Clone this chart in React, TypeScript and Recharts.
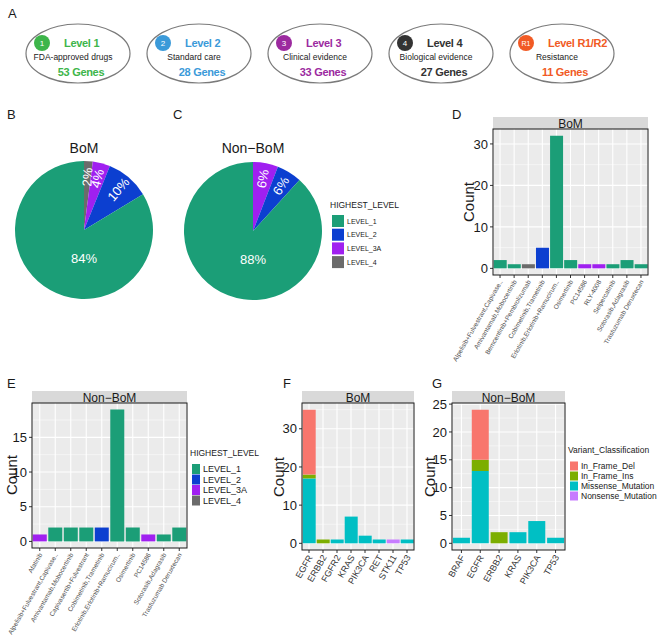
import React from 'react'
import { Bar, BarChart, CartesianGrid, Cell, Pie, PieChart, XAxis, YAxis } from 'recharts'

const FONT = '"Liberation Sans", Arial, Helvetica, sans-serif'

// panel A: OncoKB evidence levels
const levelBadges = ['1', '2', '3', '4', 'R1']
const levelTitles = ['Level 1', 'Level 2', 'Level 3', 'Level 4', 'Level R1/R2']
const levelDescs = ['FDA-approved drugs', 'Standard care', 'Clinical evidence', 'Biological evidence', 'Resistance']
const levelGenes = [53, 28, 33, 27, 11]
const levelInk = ['#3db54a', '#3b9ad9', '#9c2a9f', '#333333', '#f15a24']

// highest level legend
const LEVELS = ['LEVEL_1', 'LEVEL_2', 'LEVEL_3A', 'LEVEL_4']
const LEVEL_COLORS = ['#1b9e77', '#0c3fd0', '#a020f0', '#6b6b6b']

// panel D: BoM drugs
const bomDrugs = [
  'Alpelisib+Fulvestrant,Capivase..',
  'Amivantamab,Mobocertinib',
  'Bemcentinib+Pembrolizumab',
  'Cobimetinib,Trametinib',
  'Erlotinib,Erlotinib+Ramucirum..',
  'Osimertinib',
  'PC14586',
  'RLY-4008',
  'Selpercatinib',
  'Sotorasib,Adagrasib',
  'Trastuzumab Deruxtecan',
]
const bomDrugCounts = [2, 1, 1, 5, 32, 2, 1, 1, 1, 2, 1]
const bomDrugLevels = ['LEVEL_1', 'LEVEL_1', 'LEVEL_4', 'LEVEL_2', 'LEVEL_1', 'LEVEL_1', 'LEVEL_3A', 'LEVEL_3A', 'LEVEL_1', 'LEVEL_1', 'LEVEL_1']

// panel E: Non-BoM drugs
const nonBomDrugs = [
  'Afatinib',
  'Alpelisib+Fulvestrant,Capivase..',
  'Amivantamab,Mobocertinib',
  'Capivasertib+Fulvestrant',
  'Cobimetinib,Trametinib',
  'Erlotinib,Erlotinib+Ramucirum..',
  'Osimertinib',
  'PC14586',
  'Sotorasib,Adagrasib',
  'Trastuzumab Deruxtecan',
]
const nonBomDrugCounts = [1, 2, 2, 2, 2, 19, 2, 1, 1, 2]
const nonBomDrugLevels = ['LEVEL_3A', 'LEVEL_1', 'LEVEL_1', 'LEVEL_1', 'LEVEL_2', 'LEVEL_1', 'LEVEL_1', 'LEVEL_3A', 'LEVEL_1', 'LEVEL_1']

// panels F/G: variant classification per gene
const VARIANTS = ['In_Frame_Del', 'In_Frame_Ins', 'Missense_Mutation', 'Nonsense_Mutation']
const VARIANT_COLORS = ['#F8766D', '#7CAE00', '#00BFC4', '#C77CFF']

const bomGenes = ['EGFR', 'ERBB2', 'FGFR2', 'KRAS', 'PIK3CA', 'RET', 'STK11', 'TP53']
const bomDel = [17, 0, 0, 0, 0, 0, 0, 0]
const bomIns = [1, 1, 0, 0, 0, 0, 0, 0]
const bomMissense = [17, 0, 1, 7, 2, 1, 0, 1]
const bomNonsense = [0, 0, 0, 0, 0, 0, 1, 0]

const nonBomGenes = ['BRAF', 'EGFR', 'ERBB2', 'KRAS', 'PIK3CA', 'TP53']
const nonBomDel = [0, 9, 0, 0, 0, 0]
const nonBomIns = [0, 2, 2, 0, 0, 0]
const nonBomMissense = [1, 13, 0, 2, 4, 1]
const nonBomNonsense = [0, 0, 0, 0, 0, 0]

const levelColor = (lvl: string) => LEVEL_COLORS[LEVELS.indexOf(lvl)]

const drugRows = (names: string[], counts: number[], levels: string[]) =>
  names.map((name, i) => ({ name, count: counts[i], level: levels[i] }))

const geneRows = (genes: string[], del: number[], ins: number[], mis: number[], non: number[]) =>
  genes.map((name, i) => ({
    name,
    In_Frame_Del: del[i],
    In_Frame_Ins: ins[i],
    Missense_Mutation: mis[i],
    Nonsense_Mutation: non[i],
  }))

// pie slices go clockwise from 12 o'clock, highest level last
const pieRows = (counts: number[], levels: string[]) =>
  [...LEVELS]
    .reverse()
    .map((lvl) => ({
      name: lvl,
      value: counts.reduce((s, c, i) => (levels[i] === lvl ? s + c : s), 0),
    }))
    .filter((d) => d.value > 0)

const pieLabel = (p: any) => {
  const { cx, cy, midAngle, outerRadius, percent } = p
  const txt = `${Math.round(percent * 100)}%`
  if (percent > 0.5) {
    return (
      <text x={cx} y={cy + outerRadius * 0.42} fill="#fff" textAnchor="middle" dominantBaseline="central" fontSize={13} fontFamily={FONT}>
        {txt}
      </text>
    )
  }
  const r = outerRadius * 0.77
  const rad = (-midAngle * Math.PI) / 180
  const x = cx + r * Math.cos(rad)
  const y = cy + r * Math.sin(rad)
  return (
    <text x={x} y={y} fill="#fff" textAnchor="middle" dominantBaseline="central" fontSize={13} fontFamily={FONT} transform={`rotate(${-midAngle} ${x} ${y})`}>
      {txt}
    </text>
  )
}

function LevelPie({ left, top, data }: { left: number; top: number; data: { name: string; value: number }[] }) {
  return (
    <div style={{ position: 'absolute', left, top }}>
      <PieChart width={170} height={170} margin={{ top: 0, right: 0, bottom: 0, left: 0 }}>
        <Pie
          data={data}
          dataKey="value"
          nameKey="name"
          cx={85}
          cy={85}
          outerRadius={69}
          startAngle={90}
          endAngle={-270}
          stroke="none"
          label={pieLabel}
          labelLine={false}
          isAnimationActive={false}
        >
          {data.map((d) => (
            <Cell key={d.name} fill={levelColor(d.name)} />
          ))}
        </Pie>
      </PieChart>
    </div>
  )
}

const slantTick = (size: number, fill: string) => (props: any) => {
  const { x, y, payload } = props
  return (
    <text x={x} y={y} dy={size * 0.5} textAnchor="end" fontSize={size} fill={fill} fontFamily={FONT} transform={`rotate(-60 ${x} ${y})`}>
      {payload.value}
    </text>
  )
}

interface FacetProps {
  left: number
  top: number
  width: number
  height: number
  xHeight: number
  yW: number
  data: any[]
  domain: [number, number]
  ticks: number[]
  minor: number[]
  labelSize: number
  children: React.ReactNode
}

function FacetBars({ left, top, width, height, xHeight, yW, data, domain, ticks, minor, labelSize, children }: FacetProps) {
  const mt = 8
  const mr = 2
  return (
    <div style={{ position: 'absolute', left: left - yW, top: top - mt }}>
      <BarChart
        width={yW + width + mr}
        height={mt + height + xHeight}
        data={data}
        margin={{ top: mt, right: mr, bottom: 0, left: 0 }}
        barCategoryGap="5%"
      >
        <CartesianGrid fill="#ebebeb" stroke="#ffffff" strokeWidth={1.1} horizontalValues={ticks} />
        <CartesianGrid stroke="#ffffff" strokeWidth={0.5} vertical={false} horizontalValues={minor} />
        <XAxis
          dataKey="name"
          interval={0}
          axisLine={false}
          tickSize={3}
          tickLine={{ stroke: '#333' }}
          height={xHeight}
          tick={slantTick(labelSize, labelSize < 8 ? '#4d4d4d' : '#333')}
        />
        <YAxis
          type="number"
          domain={domain}
          ticks={ticks}
          allowDataOverflow
          width={yW}
          axisLine={false}
          tickSize={3}
          tickLine={{ stroke: '#333' }}
          tick={{ fontSize: 13, fill: '#1a1a1a', fontFamily: FONT }}
        />
        {children}
      </BarChart>
    </div>
  )
}

const levelBar = (rows: { level: string }[]) => (
  <Bar dataKey="count" isAnimationActive={false}>
    {rows.map((r, i) => (
      <Cell key={i} fill={levelColor(r.level)} />
    ))}
  </Bar>
)

// bottom of the stack first
const variantBars = () =>
  [3, 2, 1, 0].map((k) => (
    <Bar key={VARIANTS[k]} dataKey={VARIANTS[k]} stackId="v" fill={VARIANT_COLORS[k]} isAnimationActive={false} />
  ))

function Strip({ x, y, w, label }: { x: number; y: number; w: number; label: string }) {
  return (
    <g>
      <rect x={x} y={y} width={w} height={12} fill="#d9d9d9" />
      <text x={x + w / 2} y={y + 10.5} textAnchor="middle" fontSize={12} fill="#1a1a1a">
        {label}
      </text>
    </g>
  )
}

function Legend({ x, y, title, names, colors, keyW, keyH, step, size }: any) {
  return (
    <g>
      <text x={x} y={y} dominantBaseline="central" fontSize={8.5} fill="#1a1a1a">
        {title}
      </text>
      {names.map((n: string, i: number) => (
        <g key={n}>
          <rect x={x + 2} y={y + 16 + i * step - keyH / 2} width={keyW} height={keyH} fill={colors[i]} />
          <text x={x + keyW + 5} y={y + 16 + i * step} dominantBaseline="central" fontSize={size} fill="#1a1a1a">
            {n}
          </text>
        </g>
      ))}
    </g>
  )
}

export default function App() {
  const bomRows = drugRows(bomDrugs, bomDrugCounts, bomDrugLevels)
  const nonBomRows = drugRows(nonBomDrugs, nonBomDrugCounts, nonBomDrugLevels)
  const fRows = geneRows(bomGenes, bomDel, bomIns, bomMissense, bomNonsense)
  const gRows = geneRows(nonBomGenes, nonBomDel, nonBomIns, nonBomMissense, nonBomNonsense)

  return (
    <div style={{ position: 'absolute', left: 0, top: 0, width: 664, height: 643, background: '#fff', overflow: 'hidden', fontFamily: FONT }}>
      <LevelPie left={-1} top={145} data={pieRows(bomDrugCounts, bomDrugLevels)} />
      <LevelPie left={168} top={146} data={pieRows(nonBomDrugCounts, nonBomDrugLevels)} />

      <FacetBars left={493} top={129} width={155} height={146} xHeight={100} yW={60} data={bomRows} domain={[-1.6, 33.6]} ticks={[0, 10, 20, 30]} minor={[5, 15, 25]} labelSize={6.5}>
        {levelBar(bomRows)}
      </FacetBars>
      <FacetBars left={32} top={403} width={155} height={145} xHeight={100} yW={32} data={nonBomRows} domain={[-0.95, 19.95]} ticks={[0, 5, 10, 15]} minor={[2.5, 7.5, 12.5, 17.5]} labelSize={6.5}>
        {levelBar(nonBomRows)}
      </FacetBars>
      <FacetBars left={302} top={403} width={112} height={147} xHeight={45} yW={30} data={fRows} domain={[-1.75, 36.75]} ticks={[0, 10, 20, 30]} minor={[5, 15, 25, 35]} labelSize={9}>
        {variantBars()}
      </FacetBars>
      <FacetBars left={452} top={403} width={113} height={147} xHeight={45} yW={30} data={gRows} domain={[-1.2, 25.2]} ticks={[0, 5, 10, 15, 20, 25]} minor={[2.5, 7.5, 12.5, 17.5, 22.5]} labelSize={9}>
        {variantBars()}
      </FacetBars>

      <svg width={664} height={643} style={{ position: 'absolute', left: 0, top: 0, pointerEvents: 'none' }} fontFamily={FONT}>
        {/* panel letters */}
        {[
          ['A', 8, 18],
          ['B', 7, 119],
          ['C', 173, 119],
          ['D', 452, 119],
          ['E', 7, 388],
          ['F', 283, 388],
          ['G', 432, 388],
        ].map(([t, x, y]) => (
          <text key={t as string} x={x as number} y={y as number} fontSize={13} fill="#1a1a1a">
            {t}
          </text>
        ))}

        {/* panel A */}
        {levelTitles.map((t, i) => {
          const cx = 78 + i * 121
          const cy = 53.5
          return (
            <g key={t}>
              <ellipse cx={cx} cy={cy} rx={52} ry={29.5} fill="#fff" stroke="#7a7a7a" strokeWidth={1.2} />
              <circle cx={cx - 36} cy={43} r={8} fill={levelInk[i]} />
              <text x={cx - 36} y={43} textAnchor="middle" dominantBaseline="central" fontSize={levelBadges[i].length > 1 ? 7 : 8} fill="#fff">
                {levelBadges[i]}
              </text>
              <text x={cx - 14} y={43} dominantBaseline="central" fontSize={11} fontWeight="bold" fill={levelInk[i]} letterSpacing={-0.3}>
                {t}
              </text>
              <text x={cx - 5} y={57} textAnchor="middle" dominantBaseline="central" fontSize={8.5} fill="#222">
                {levelDescs[i]}
              </text>
              <text x={cx + 3} y={72} textAnchor="middle" dominantBaseline="central" fontSize={11} fontWeight="bold" fill={levelInk[i]} letterSpacing={-0.3}>
                {`${levelGenes[i]} Genes`}
              </text>
            </g>
          )
        })}

        {/* pie titles + legend */}
        <text x={84} y={148} textAnchor="middle" dominantBaseline="central" fontSize={14} fill="#1a1a1a">
          BoM
        </text>
        <text x={253} y={148} textAnchor="middle" dominantBaseline="central" fontSize={14} fill="#1a1a1a">
          Non−BoM
        </text>
        <Legend x={330} y={205} title="HIGHEST_LEVEL" names={LEVELS} colors={LEVEL_COLORS} keyW={12} keyH={12} step={13.7} size={7} />

        {/* facet strips and borders */}
        <Strip x={493} y={117} w={155} label="BoM" />
        <Strip x={32} y={391} w={155} label="Non−BoM" />
        <Strip x={302} y={391} w={112} label="BoM" />
        <Strip x={452} y={391} w={113} label="Non−BoM" />
        <rect x={493} y={129} width={155} height={146} fill="none" stroke="#1a1a1a" strokeWidth={1} />
        <rect x={32} y={403} width={155} height={145} fill="none" stroke="#1a1a1a" strokeWidth={1} />
        <rect x={302} y={403} width={112} height={147} fill="none" stroke="#1a1a1a" strokeWidth={1} />
        <rect x={452} y={403} width={113} height={147} fill="none" stroke="#1a1a1a" strokeWidth={1} />

        {/* y axis titles */}
        {[
          [468, 202],
          [11, 475],
          [278, 477],
          [429, 477],
        ].map(([x, y], i) => (
          <text key={i} x={x} y={y} textAnchor="middle" dominantBaseline="central" fontSize={15} fill="#1a1a1a" transform={`rotate(-90 ${x} ${y})`}>
            Count
          </text>
        ))}

        <Legend x={190} y={453} title="HIGHEST_LEVEL" names={LEVELS} colors={LEVEL_COLORS} keyW={8} keyH={10} step={10.5} size={9} />
        <Legend x={568} y={450} title="Variant_Classification" names={VARIANTS} colors={VARIANT_COLORS} keyW={8} keyH={9} step={10} size={8.5} />
      </svg>
    </div>
  )
}
